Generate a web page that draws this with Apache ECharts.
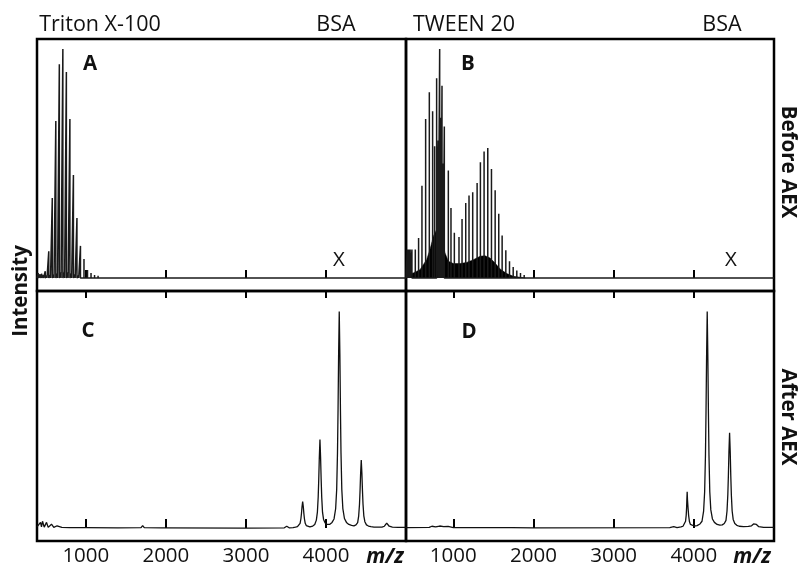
<!DOCTYPE html>
<html>
<head>
<meta charset="utf-8">
<script src="https://cdn.jsdelivr.net/npm/echarts@6/dist/echarts.min.js"></script>
<style>
  html, body { margin: 0; padding: 0; background: #fff; }
  #main { width: 801px; height: 567px; }
</style>
</head>
<body>
<div id="main"></div>
<script>
// tick labels on m/z axis
const tickValues = [1000, 2000, 3000, 4000];

// Panel A: Triton X-100, stick peaks (m/z, relative intensity)
const aPeakMz  = [493, 537, 581, 625, 669, 713, 757, 801, 845, 889, 933, 977, 1021, 1065, 1109, 1153, 1197, 1241, 1285, 1329, 1373, 1417, 1461, 1505, 1549, 1593, 1637, 1681];
const aPeakInt = [2.9, 11.7, 34.9, 68.6, 93.4, 100, 90, 69.4, 45, 26.2, 14, 8.3, 3.5, 2.2, 1.3, 1.0, 0.8, 0.7, 0.6, 0.5, 0.45, 0.4, 0.35, 0.3, 0.3, 0.25, 0.2, 0.2];
// small adduct peaks near the base of A
const aMinorMz  = [405, 427, 449, 471, 515, 559, 603, 647, 691, 735, 779, 823, 867, 911, 955, 999];
const aMinorInt = [2.2, 1.6, 1.8, 1.2, 1.0, 1.3, 1.6, 2.0, 2.4, 2.6, 2.4, 2.0, 1.5, 1.1, 0.8, 0.5];

// Panel B: TWEEN 20, stick peaks
const bPeakMz  = [426, 444, 462, 484, 526, 567, 609, 655, 701, 742, 767, 792, 812, 830, 845, 859, 873, 888, 938, 971, 1013, 1071, 1109, 1155, 1196, 1242, 1297, 1338, 1384, 1430, 1476, 1522, 1567, 1609, 1655, 1701, 1747, 1792, 1838, 1884, 1930, 1976, 2022];
const bPeakInt = [12.4, 12.4, 12.4, 12.4, 12.4, 17.5, 40.3, 69.4, 81.1, 72.8, 57.5, 87.3, 60, 100, 70, 84, 50, 66.2, 46.9, 30.6, 19.7, 17.9, 25.8, 32.8, 36, 37.4, 41.5, 50.5, 55.3, 56.8, 47.6, 38.3, 28.1, 18.5, 12.1, 7.3, 4.8, 3.3, 2.2, 1.3, 0.8, 0.5, 0.3];
// dense unresolved forest under B (envelope)
const bEnvMz  = [410, 417, 501, 584, 667, 709, 751, 792, 826, 855, 897, 938, 1001, 1084, 1167, 1251, 1334, 1396, 1459, 1521, 1584, 1667, 1751, 1834, 1900];
const bEnvInt = [0, 1.5, 2.2, 3.6, 8, 12.4, 18.2, 21.1, 19.7, 16.7, 10.9, 7.3, 6.3, 6.3, 6.8, 8, 9.5, 9.7, 8.7, 6.5, 3.9, 1.9, 0.7, 0.3, 0];
// tiny bumps far right in B
const bSmallMz  = [4209, 4484, 4796];
const bSmallInt = [0.5, 0.8, 0.6];

// Panel C: profile trace after AEX (Triton X-100)
const cTraceMz  = [390, 410, 434, 446, 459, 480, 509, 530, 571, 600, 641, 700, 800, 1000, 1400, 1690, 1710, 1730, 1950, 1965, 1980, 3000, 3480, 3510, 3540,
  3589, 3619, 3644, 3664, 3677, 3687, 3694, 3701, 3709, 3717, 3724, 3731, 3741, 3754, 3774, 3799,
  3835, 3860, 3880, 3893, 3903, 3910, 3917, 3925, 3933, 3940, 3947, 3957, 3970, 3990, 4015, 4045,
  4076, 4101, 4121, 4134, 4144, 4151, 4158, 4166, 4174, 4181, 4188, 4198, 4211, 4231, 4256, 4286, 4320,
  4350, 4375, 4396, 4409, 4419, 4426, 4433, 4441, 4449, 4456, 4463, 4473, 4486, 4506, 4531, 4561, 4600,
  4700, 4730, 4745, 4759, 4773, 4790, 4830, 4900, 5000];
const cTraceInt = [0.5, 0.4, 2.5, 0.5, 3, 0.4, 2.5, 0.3, 1.7, 0.3, 1, 0.3, 0.2, 0.2, 0.1, 0.2, 1.1, 0.2, 0.1, 0.6, 0.1, 0, 0.1, 0.8, 0.1,
  0.2, 0.4, 0.6, 1.1, 2.1, 4.1, 6.4, 9.4, 11.7, 9.4, 6.4, 4.1, 2.1, 1.1, 0.6, 0.5,
  0.9, 1.6, 3.5, 7, 13.7, 21.5, 31, 39, 31, 21.5, 13.7, 7, 3.8, 2.2, 1.6, 1.6,
  2.5, 4, 8.5, 17, 33, 52, 76, 95.4, 76, 52, 33, 17, 8.6, 4.2, 2.5, 1.6, 1.2,
  1.0, 1.4, 2.4, 5.4, 10.5, 16.5, 24, 30, 24, 16.5, 10.5, 5.4, 2.8, 1.4, 0.9, 0.6, 0.4,
  0.4, 0.8, 1.5, 2.2, 1.5, 0.8, 0.4, 0.3, 0.3];

// Panel D: profile trace after AEX (TWEEN 20)
const dTraceMz  = [410, 700, 733, 780, 830, 880, 935, 1000, 1690, 1709, 1730, 2000, 3700, 3750, 3790,
  3840, 3865, 3885, 3897, 3905, 3910, 3913, 3917, 3921, 3928, 3935, 3945, 3958, 3978, 4003, 4040,
  4077, 4102, 4122, 4135, 4145, 4152, 4159, 4167, 4175, 4182, 4189, 4199, 4212, 4232, 4257, 4290, 4325,
  4355, 4380, 4401, 4414, 4424, 4431, 4438, 4446, 4454, 4461, 4468, 4478, 4491, 4511, 4536, 4566, 4620, 4680,
  4720, 4745, 4763, 4781, 4810, 4870, 5000];
const dTraceInt = [0.2, 0.3, 0.8, 0.5, 0.9, 0.6, 0.7, 0.2, 0.2, 0.8, 0.2, 0.1, 0.2, 0.6, 0.2,
  0.5, 0.8, 1.6, 3, 5.7, 9, 12.5, 16, 12.5, 8.8, 5.6, 2.9, 1.6, 1, 0.9, 1.1,
  1.8, 3, 7.5, 16, 32, 51, 75, 95.4, 75, 51, 32, 16, 8, 4, 2.5, 1.6, 1.3,
  1.4, 2, 3.4, 7.5, 14.7, 23, 33.5, 42, 33.5, 23, 14.7, 7.5, 3.8, 2, 1.2, 0.8, 0.6, 0.7,
  1, 1.8, 2.6, 1.6, 0.6, 0.3, 0.3];

// ---- helpers ----
function zip(xs, ys) { return xs.map((x, i) => [x, ys[i]]); }

// stick spectrum as one polyline along the baseline
function stickLine(mzList, intList, from, to) {
  const pts = zip(mzList, intList).sort((p, q) => p[0] - q[0]);
  const out = [[from, 0]];
  pts.forEach(([m, h]) => { out.push([m, 0], [m, h], [m, 0]); });
  out.push([to, 0]);
  return out;
}

const xMinL = 390, xMinR = 410, xMax = 5000;
const yMin = -5.7, yMax = 104.4;
const FONT = '"Open Sans", "Noto Sans", sans-serif';

const grids = [
  { left: 37,  top: 39,  width: 369, height: 252 },
  { left: 406, top: 39,  width: 368, height: 252 },
  { left: 37,  top: 291, width: 369, height: 252 },
  { left: 406, top: 291, width: 368, height: 252 }
].map(g => Object.assign({ show: true, borderColor: '#000', borderWidth: 2.5, backgroundColor: 'transparent' }, g));

function xAxisFor(gi, min, position, tickLen, labels) {
  return {
    gridIndex: gi, type: 'value', min: min, max: xMax, position: position,
    axisLine: { show: false },
    axisTick: { show: true, inside: true, length: tickLen, customValues: tickValues,
      lineStyle: { color: '#000', width: 2 } },
    axisLabel: labels ? { show: true, customValues: tickValues, fontSize: 20.5, color: '#111',
      fontFamily: FONT, margin: 5, formatter: v => String(v) } : { show: false },
    splitLine: { show: false }
  };
}

const xAxes = [
  xAxisFor(0, xMinL, 'bottom', 8, false),
  xAxisFor(1, xMinR, 'bottom', 8, false),
  xAxisFor(2, xMinL, 'bottom', 9, true),
  xAxisFor(3, xMinR, 'bottom', 9, true),
  xAxisFor(2, xMinL, 'top', 7, false),
  xAxisFor(3, xMinR, 'top', 7, false)
];
const yAxes = [0, 1, 2, 3].map(gi => ({
  gridIndex: gi, type: 'value', min: yMin, max: yMax, show: false
}));

const lineBase = { type: 'line', symbol: 'none', silent: true, animation: false };
const sticks = { color: '#1a1a1a', width: 1.5 };
const trace = { color: '#111', width: 1.3 };

const series = [
  Object.assign({}, lineBase, { xAxisIndex: 0, yAxisIndex: 0, lineStyle: sticks,
    data: stickLine(aPeakMz.concat(aMinorMz), aPeakInt.concat(aMinorInt), xMinL, xMax) }),
  Object.assign({}, lineBase, { xAxisIndex: 1, yAxisIndex: 1,
    lineStyle: { color: '#000', width: 0.5 }, areaStyle: { color: '#000', opacity: 1 },
    data: zip(bEnvMz, bEnvInt) }),
  Object.assign({}, lineBase, { xAxisIndex: 1, yAxisIndex: 1, lineStyle: sticks,
    data: stickLine(bPeakMz.concat(bSmallMz), bPeakInt.concat(bSmallInt), xMinR, xMax) }),
  Object.assign({}, lineBase, { xAxisIndex: 2, yAxisIndex: 2, lineStyle: trace,
    data: zip(cTraceMz, cTraceInt) }),
  Object.assign({}, lineBase, { xAxisIndex: 3, yAxisIndex: 3, lineStyle: trace,
    data: zip(dTraceMz, dTraceInt) })
];

function label(text, x, y, size, weight, extra) {
  return Object.assign({
    type: 'text', x: x, y: y, silent: true,
    style: { text: text, x: 0, y: 0, fill: '#111',
      font: (extra && extra.italic ? 'italic ' : '') + weight + ' ' + size + 'px ' + FONT,
      textAlign: 'center', align: 'center', textVerticalAlign: 'middle', verticalAlign: 'middle' }
  }, extra && extra.rotation !== undefined ? { rotation: extra.rotation } : {});
}

const graphics = [
  label('Triton X-100', 100, 25, 21.5, 'normal'),
  label('BSA', 336, 25, 21.5, 'normal'),
  label('TWEEN 20', 464, 25, 21.5, 'normal'),
  label('BSA', 722, 25, 21.5, 'normal'),
  label('A', 90, 64, 20.5, 'bold'),
  label('B', 468, 64, 20.5, 'bold'),
  label('C', 88, 331, 20.5, 'bold'),
  label('D', 469, 332, 20.5, 'bold'),
  label('X', 339, 260, 20.5, 'normal'),
  label('X', 731, 260, 20.5, 'normal'),
  label('Intensity', 21, 291, 20.5, 'bold', { rotation: Math.PI / 2 }),
  label('Before AEX', 788, 162, 20.5, 'bold', { rotation: -Math.PI / 2 }),
  label('After AEX', 788, 417, 20.5, 'bold', { rotation: -Math.PI / 2 }),
  label('m/z', 385, 557, 21, 'bold', { italic: true }),
  label('m/z', 752, 557, 21, 'bold', { italic: true })
];

const chart = echarts.init(document.getElementById('main'), null, { renderer: 'canvas' });
chart.setOption({
  animation: false,
  backgroundColor: '#fff',
  grid: grids,
  xAxis: xAxes,
  yAxis: yAxes,
  series: series,
  graphic: graphics
});
</script>
</body>
</html>
